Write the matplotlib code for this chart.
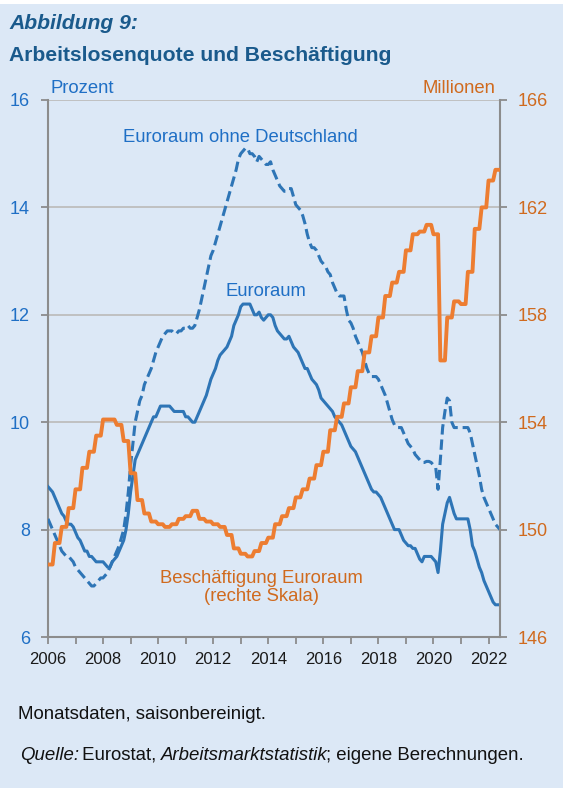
import numpy as np
import matplotlib
matplotlib.use("Agg")
import matplotlib.pyplot as plt
from matplotlib.patches import Rectangle

# Arbeitslosenquote Euroraum, Monatswerte Jan 2006 - Jun 2022 (Prozent)
euroraum = [
    8.8, 8.75, 8.7, 8.6, 8.5, 8.4, 8.3, 8.25, 8.15, 8.1, 8.1, 8.05,          # 2006
    7.95, 7.85, 7.8, 7.7, 7.6, 7.6, 7.5, 7.5, 7.45, 7.4, 7.4, 7.4,          # 2007
    7.4, 7.35, 7.3, 7.3, 7.4, 7.45, 7.5, 7.6, 7.7, 7.8, 8.0, 8.3,           # 2008
    8.7, 9.0, 9.3, 9.4, 9.5, 9.6, 9.7, 9.8, 9.9, 10.0, 10.1, 10.1,          # 2009
    10.2, 10.3, 10.3, 10.3, 10.3, 10.3, 10.25, 10.2, 10.2, 10.2, 10.2, 10.2, # 2010
    10.1, 10.1, 10.05, 10.0, 10.0, 10.1, 10.2, 10.3, 10.4, 10.5, 10.65, 10.8, # 2011
    10.9, 11.0, 11.15, 11.25, 11.3, 11.35, 11.4, 11.5, 11.6, 11.8, 11.9, 12.0, # 2012
    12.15, 12.2, 12.2, 12.2, 12.2, 12.1, 12.0, 12.0, 12.05, 11.95, 11.9, 11.95, # 2013
    12.0, 12.0, 11.95, 11.8, 11.7, 11.65, 11.6, 11.55, 11.55, 11.6, 11.5, 11.4, # 2014
    11.35, 11.3, 11.2, 11.1, 11.0, 11.0, 10.9, 10.8, 10.75, 10.7, 10.6, 10.45, # 2015
    10.4, 10.35, 10.3, 10.25, 10.2, 10.1, 10.05, 10.0, 9.95, 9.85, 9.75, 9.65, # 2016
    9.55, 9.5, 9.45, 9.35, 9.25, 9.15, 9.05, 8.95, 8.85, 8.75, 8.7, 8.7,    # 2017
    8.65, 8.6, 8.5, 8.4, 8.3, 8.2, 8.1, 8.0, 8.0, 8.0, 7.9, 7.8,            # 2018
    7.75, 7.7, 7.7, 7.65, 7.65, 7.55, 7.45, 7.4, 7.5, 7.5, 7.5, 7.5,        # 2019
    7.45, 7.4, 7.2, 7.6, 8.1, 8.3, 8.5, 8.6, 8.45, 8.3, 8.2, 8.2,           # 2020
    8.2, 8.2, 8.2, 8.2, 8.0, 7.7, 7.6, 7.45, 7.3, 7.2, 7.05, 6.95,          # 2021
    6.85, 6.75, 6.65, 6.6, 6.6, 6.6,                                        # 2022
]

# Arbeitslosenquote Euroraum ohne Deutschland (Prozent)
euroraum_ohne_de = [
    8.2, 8.1, 8.0, 7.9, 7.8, 7.7, 7.6, 7.55, 7.5, 7.5, 7.45, 7.4,
    7.3, 7.25, 7.2, 7.15, 7.1, 7.05, 7.0, 6.95, 6.95, 7.0, 7.05, 7.1,
    7.1, 7.15, 7.2, 7.3, 7.4, 7.5, 7.6, 7.7, 7.85, 8.0, 8.3, 8.7,
    9.2, 9.6, 10.0, 10.2, 10.4, 10.5, 10.7, 10.8, 10.9, 11.0, 11.15, 11.3,
    11.4, 11.5, 11.6, 11.65, 11.7, 11.7, 11.7, 11.65, 11.65, 11.7, 11.7, 11.75,
    11.75, 11.8, 11.75, 11.75, 11.8, 11.95, 12.1, 12.3, 12.5, 12.7, 12.9, 13.1,
    13.2, 13.35, 13.5, 13.65, 13.8, 13.95, 14.1, 14.25, 14.4, 14.55, 14.7, 14.9,
    15.0, 15.05, 15.1, 15.1, 15.0, 15.0, 14.95, 14.85, 14.95, 14.9, 14.85, 14.8,
    14.8, 14.85, 14.7, 14.6, 14.5, 14.4, 14.35, 14.3, 14.3, 14.35, 14.35, 14.2,
    14.05, 14.0, 13.95, 13.85, 13.7, 13.5, 13.35, 13.25, 13.25, 13.2, 13.1, 13.0,
    12.95, 12.9, 12.8, 12.75, 12.6, 12.5, 12.4, 12.35, 12.35, 12.35, 12.1, 11.9,
    11.85, 11.75, 11.6, 11.5, 11.4, 11.3, 11.15, 11.0, 10.9, 10.85, 10.85, 10.85,
    10.8, 10.7, 10.6, 10.5, 10.35, 10.2, 10.05, 9.95, 9.9, 9.9, 9.9, 9.8,
    9.7, 9.6, 9.55, 9.5, 9.4, 9.35, 9.3, 9.25, 9.25, 9.27, 9.27, 9.25,
    9.2, 9.15, 8.75, 9.3, 9.9, 10.2, 10.45, 10.4, 10.0, 9.9, 9.9, 9.9,
    9.9, 9.9, 9.9, 9.9, 9.8, 9.6, 9.4, 9.2, 9.0, 8.75, 8.6, 8.5,
    8.4, 8.3, 8.2, 8.1, 8.05, 8.0,
]

# Beschaeftigung Euroraum, Quartalswerte 2006Q1 - 2022Q2 (Millionen)
beschaeftigung = [
    148.7, 149.5, 150.1, 150.8,
    151.5, 152.3, 152.9, 153.5,
    154.1, 154.1, 153.9, 153.3,
    152.1, 151.1, 150.6, 150.3,
    150.2, 150.1, 150.2, 150.4,
    150.5, 150.7, 150.4, 150.3,
    150.2, 150.1, 149.8, 149.3,
    149.1, 149.0, 149.2, 149.5,
    149.7, 150.2, 150.5, 150.8,
    151.2, 151.5, 151.9, 152.4,
    152.9, 153.7, 154.2, 154.7,
    155.3, 155.9, 156.6, 157.2,
    157.9, 158.7, 159.2, 159.6,
    160.4, 161.0, 161.1, 161.35,
    161.0, 156.3, 157.9, 158.5,
    158.4, 159.6, 161.2, 162.0,
    163.0, 163.4,
]

x_jahre = list(range(2006, 2023))

BG = "#DCE8F6"
BLAU = "#2E75B6"
ORANGE = "#ED7D31"
TXT_BLAU = "#1F6FC5"
TXT_ORANGE = "#D06A1E"
TITEL = "#1A5A8C"
GRAU = "#8C8C8C"

plt.rcParams["font.family"] = ["Liberation Sans", "DejaVu Sans"]

fig = plt.figure(figsize=(5.63, 7.88), dpi=100, facecolor="white")
fig.patches.append(Rectangle((0, 0), 1, 784 / 788, transform=fig.transFigure,
                             facecolor=BG, edgecolor="none", zorder=-10))

ax = fig.add_axes([48 / 563, 151 / 788, 452 / 563, 537 / 788])
ax.set_facecolor("none")

t = 2006 + np.arange(len(euroraum)) / 12.0
emp = np.repeat(beschaeftigung, 3)[:len(t)]

ax.plot(t, euroraum, color=BLAU, lw=2.2, zorder=3)
ax.plot(t, euroraum_ohne_de, color=BLAU, lw=2.2, dashes=(3.4, 1.6), zorder=3)

ax.set_xlim(t[0], t[-1])
ax.set_ylim(6, 16)
ax.set_yticks([6, 8, 10, 12, 14, 16])
ax.set_xticks(x_jahre)
ax.set_xticklabels([str(j) if j % 2 == 0 else "" for j in x_jahre], fontsize=12)
ax.grid(axis="y", color="#BDBDBD", lw=1.3, zorder=0)
ax.set_axisbelow(True)

for s in ["top", "right"]:
    ax.spines[s].set_visible(False)
for s in ["left", "bottom"]:
    ax.spines[s].set_color(GRAU)
    ax.spines[s].set_linewidth(1.5)
ax.tick_params(axis="y", colors=GRAU, labelcolor=TXT_BLAU, labelsize=13,
               length=5, width=1.3, pad=8)
ax.tick_params(axis="x", colors=GRAU, labelcolor="#1A1A1A",
               length=5, width=1.3, pad=6)

ax2 = ax.twinx()
ax2.plot(t, emp, color=ORANGE, lw=2.8, zorder=4)
ax2.set_ylim(146, 166)
ax2.set_yticks([146, 150, 154, 158, 162, 166])
for s in ["top", "left", "bottom"]:
    ax2.spines[s].set_visible(False)
ax2.spines["right"].set_color(GRAU)
ax2.spines["right"].set_linewidth(1.5)
ax2.tick_params(axis="y", colors=GRAU, labelcolor=TXT_ORANGE, labelsize=13,
                length=5, width=1.3, pad=8)

# Beschriftungen im Diagramm
ax.text(2013.0, 15.3, "Euroraum ohne Deutschland", color=TXT_BLAU, fontsize=13.3,
        ha="center", va="center")
ax.text(2013.9, 12.43, "Euroraum", color=TXT_BLAU, fontsize=13.3,
        ha="center", va="center")
ax.text(2013.75, 6.92, "Beschäftigung Euroraum\n(rechte Skala)", color=TXT_ORANGE,
        fontsize=13.3, ha="center", va="center", linespacing=1.05)

fig.text(50 / 563, 1 - 93 / 788, "Prozent", color=TXT_BLAU, fontsize=13.3, va="baseline")
fig.text(495 / 563, 1 - 93 / 788, "Millionen", color=TXT_ORANGE, fontsize=13.3,
         va="baseline", ha="right")

# Titel
fig.text(9 / 563, 1 - 29 / 788, "Abbildung 9:", color=TITEL, fontsize=15.2,
         fontweight="bold", style="italic", va="baseline")
fig.text(9 / 563, 1 - 61 / 788, "Arbeitslosenquote und Beschäftigung", color=TITEL,
         fontsize=15.2, fontweight="bold", va="baseline")

# Fussnoten
fig.text(18 / 563, 1 - 719 / 788, "Monatsdaten, saisonbereinigt.", color="#111111",
         fontsize=13.4, va="baseline")

renderer = fig.canvas.get_renderer()
xpos = 20 / 563
for teil, stil in [("Quelle:", "italic"), (" Eurostat, ", "normal"),
                   ("Arbeitsmarktstatistik", "italic"), ("; eigene Berechnungen.", "normal")]:
    tx = fig.text(xpos, 1 - 760 / 788, teil, color="#111111", fontsize=13.4,
                  style=stil, va="baseline")
    breite = tx.get_window_extent(renderer).width
    if stil == "italic":
        breite -= 2  # kursiver Ueberhang
    xpos += breite / fig.bbox.width

fig.savefig("out.png", dpi=100, facecolor=fig.get_facecolor())
